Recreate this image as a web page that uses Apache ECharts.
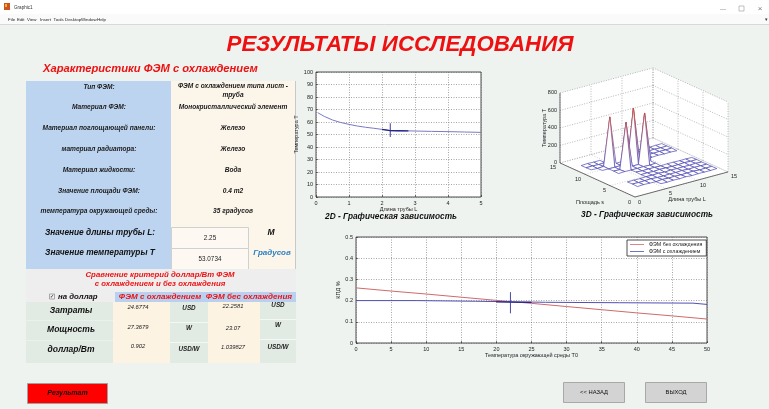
<!DOCTYPE html>
<html><head><meta charset="utf-8">
<script src="https://cdn.jsdelivr.net/npm/echarts@6/dist/echarts.min.js"></script>
<style>html,body{margin:0;padding:0;background:#eef3f0;overflow:hidden}#c{width:769px;height:409px}</style>
</head><body><div id="c"></div>
<script>
// ---------------- DATA ----------------
// 2D chart: temperature T vs tube length L
const lenL  = [0.05, 0.25, 0.5, 0.75, 1.0, 1.25, 1.5, 1.75, 2.0, 2.25, 2.5, 2.75, 3.0, 3.5, 4.0, 4.5, 5.0];
const tempT = [67.5, 64.5, 61.6, 59.6, 58.1, 56.8, 55.8, 55.0, 54.1, 53.07, 53.0, 52.9, 52.8, 52.5, 52.3, 52.0, 51.7];
const lenDark  = [2.0, 2.25, 2.5, 2.8];
const tempDark = [54.1, 53.07, 53.0, 52.9];
const lenMark  = [2.25, 2.25];
const tempMark = [48, 59];

// Efficiency chart: КПД vs ambient temperature T0
const t0Hot      = [0, 5, 10, 15, 20, 25, 30, 35, 40, 45, 50];
const effNoCool  = [0.26, 0.245, 0.231, 0.216, 0.201, 0.187, 0.172, 0.157, 0.142, 0.128, 0.113];
const t0Cool     = [0, 8.6, 8.7, 17, 17.1, 27, 37.5, 48, 50];
const effCool    = [0.2, 0.2, 0.197, 0.197, 0.193, 0.192, 0.19, 0.188, 0.182];
const t0Dark     = [20, 22, 25];
const effDark    = [0.194, 0.193, 0.192];
const t0Mark     = [22, 22];
const effMark    = [0.14, 0.24];
const seriesNames = ['ФЭМ без охлаждения', 'ФЭМ с охлаждением'];

// 3D surface: Temperature T over (tube length L, area s); null = no data
const meshL = [1, 2, 3, 4, 5, 6, 7, 8, 9, 10, 11, 12, 13, 14];
const meshS = [1, 2, 3, 4, 5, 6, 7, 8, 9, 10, 11, 12, 13];
const _ = null;
const meshZ = [ // rows: s = 1..13, columns: L = 1..14
  [_,  _,  _,  _,  31, 29, 33, 30, 34, 28, 31, 30, 29, 32],
  [_,  29, 33, 30, 28, 34, 30, 32, 29, 31, 33, 28, 30, 31],
  [_,  33, 30, 32, 35, 30, 29, 31, 30, 34, 29, 32, 31, 30],
  [_,  30, 31, 29, 33, 31, 34, 28, 32, 30, 31, 29, 33, 28],
  [_,  _,  _,  _,  30, 32, 28, 33, 31, 29, 30, 34, 30, 32],
  [_,  _,  _,  _,  34, 29, 31, 30, 28, 33, 32, 30, 31, 29],
  [_,  _,  29, 33, 31, 30, 32, 29, 33, _,  _,  _,  _,  _ ],
  [_,  _,  32, 28, 550, 31, 30, 600, 30, _, _,  _,  _,  _ ],
  [_,  32, 31, 30, 32, 29, 650, 31, 29, 30, 34, 30, 32, 28],
  [32, 29, 33, 580, 30, 33, 30, 29, 31, 28, 30, 32, 30, 33],
  [30, 31, 28, 32, _,  _,  _,  _,  30, 32, 29, 31, 28, 30],
  [29, 33, 30, 31, _,  _,  _,  _,  31, 30, 33, 29, 31, 32],
  [_,  _,  _,  _,  _,  _,  _,  _,  _,  _,  _,  _,  _,  _ ]
];
const zTicks3D = [0, 200, 400, 600, 800];
const lTicks3D = [0, 5, 10, 15];
const sTicks3D = [0, 5, 10, 15];

// GUI table texts
const rowLabels = ['Тип ФЭМ:', 'Материал ФЭМ:', 'Материал поглощающей панели:', 'материал радиатора:',
  'Материал жидкости:', 'Значение площади ФЭМ:', 'температура окружающей среды:'];
const rowValues = ['ФЭМ с охлаждением типа лист -\nтруба', 'Монокристаллический элемент', 'Железо', 'Железо',
  'Вода', '0.4 m2', '35 градусов'];
const tubeLength = '2.25';
const tempResult = '53.0734';
const costRowNames = ['Затраты', 'Мощность', 'доллар/Вт'];
const costCool = ['24.6774', '27.3679', '0.902'];
const costNoCool = ['22.2581', '23.07', '1.039827'];
const costUnits = ['USD', 'W', 'USD/W'];
const menuItems = ['File', 'Edit', 'View', 'Insert', 'Tools', 'Desktop', 'Window', 'Help'];

// ---------------- LAYOUT / STYLE ----------------
const FF = '"Liberation Sans", Arial, sans-serif';
function fnt(size, bold, italic) { return (italic ? 'italic ' : '') + (bold ? 'bold ' : '') + size + 'px ' + FF; }
function rect(x, y, w, h, fill, stroke, lw) {
  return { type: 'rect', silent: true, z: 0, shape: { x: x, y: y, width: w, height: h },
    style: { fill: fill, stroke: stroke || null, lineWidth: lw || 0 } };
}
function txt(x, y, text, font, fill, align, extra) {
  const st = { text: text, font: font, fill: fill || '#111', align: align || 'center', verticalAlign: 'middle',
    textAlign: align || 'center', textVerticalAlign: 'middle' };
  if (extra) Object.assign(st, extra);
  return { type: 'text', silent: true, z: 5, x: x, y: y, style: st };
}
function hline(x1, x2, y, color, lw) {
  return { type: 'line', silent: true, z: 1, shape: { x1: x1, y1: y, x2: x2, y2: y }, style: { stroke: color, lineWidth: lw || 1 } };
}
function vline(x, y1, y2, color, lw) {
  return { type: 'line', silent: true, z: 1, shape: { x1: x, y1: y1, x2: x, y2: y2 }, style: { stroke: color, lineWidth: lw || 1 } };
}

const RED = '#ee1111';
const g = [];
// window chrome
g.push(rect(0, 0, 769, 14, '#ffffff'));
g.push(rect(0, 14, 769, 10, '#fafafa'));
g.push(hline(0, 769, 24.5, '#d8d8d8', 1));
g.push(rect(4, 3, 6, 7, '#c8561e'));
g.push(rect(5, 4, 2, 3, '#f0b030'));
g.push(txt(14, 7.5, 'Graphic1', fnt(4.6, false, false), '#333', 'left'));
const menuX = [8, 17, 27, 40, 53.5, 65, 81, 97];
menuItems.forEach((m, i) => g.push(txt(menuX[i], 19.5, m, fnt(4.4, false, false), '#222', 'left')));
g.push(txt(723, 9, '—', fnt(6, false, false), '#777'));
g.push(rect(739, 6, 5, 5, null, '#999', 0.6));
g.push(txt(760, 9, '×', fnt(8, false, false), '#777'));
g.push(txt(766, 20, '▾', fnt(5, false, false), '#333'));

// Main title
g.push(txt(400, 45, 'РЕЗУЛЬТАТЫ ИССЛЕДОВАНИЯ', fnt(22.3, true, true), RED));
g.push(txt(43, 68.5, 'Характеристики ФЭМ с охлаждением', fnt(11.2, true, true), RED, 'left'));

// Table - properties
g.push(rect(26, 81, 145, 188, '#bcd4f0'));
g.push(rect(171, 81, 124, 188, '#fcf5ea'));
g.push(vline(295.5, 81, 269, '#c8c8c8', 1));
const rowY = [87, 107, 128, 149, 170, 191, 211];
rowLabels.forEach((t, i) => g.push(txt(99, rowY[i], t, fnt(6.6, true, true), '#1a1a1a')));
rowValues.forEach((t, i) => g.push(txt(233, i === 0 ? 90.5 : rowY[i], t, fnt(6.6, true, true), '#1a1a1a', 'center', { lineHeight: 8.5 })));
g.push(txt(100, 233, 'Значение длины трубы L:', fnt(8.3, true, true), '#111'));
g.push(txt(100, 253, 'Значение температуры Т', fnt(8.3, true, true), '#111'));
g.push(rect(171.5, 227.5, 77, 21, '#fdf8f1', '#d0d0d0', 1));
g.push(rect(171.5, 248.5, 77, 21, '#fdf8f1', '#d0d0d0', 1));
g.push(txt(210, 238.5, tubeLength, fnt(6.3, false, false), '#222'));
g.push(txt(210, 259.5, tempResult, fnt(6.3, false, false), '#222'));
g.push(txt(271, 233, 'М', fnt(8.5, true, true), '#111'));
g.push(txt(272, 253, 'Градусов', fnt(8, true, true), '#2a7fc0'));

// Comparison block
g.push(rect(26, 269, 270, 23, '#eeeeee'));
g.push(txt(160, 274.5, 'Сравнение критерий доллар/Вт ФЭМ', fnt(7.8, true, true), RED));
g.push(txt(160, 283.5, 'с охлаждением и без охлаждения', fnt(7.8, true, true), RED));
g.push(rect(26, 292, 89, 10, '#eeeeee'));
g.push(rect(49.5, 294, 5, 5, '#f4f4f4', '#777', 0.6));
g.push(txt(52, 296.8, '✓', fnt(5, true, false), '#333'));
g.push(txt(58, 297, 'на доллар', fnt(7.8, true, true), '#111', 'left'));
g.push(rect(115, 292, 181, 10, '#b9d1f0'));
g.push(txt(205.5, 297, 'ФЭМ с охлаждением  ФЭМ бес охлаждения', fnt(8.1, true, true), RED));
// cost grid
const colX = [26, 113, 170, 208, 260, 296];
const colFill = ['#e1ebe3', '#fdf3e3', '#e1ebe3', '#fdf3e3', '#e1ebe3'];
colFill.forEach((c, i) => g.push(rect(colX[i], 302, colX[i + 1] - colX[i], 61, c)));
g.push(hline(170, 208, 322.5, '#f4f8f5', 1));
g.push(hline(170, 208, 342.5, '#f4f8f5', 1));
g.push(hline(260, 296, 319.5, '#f4f8f5', 1));
g.push(hline(260, 296, 339.5, '#f4f8f5', 1));
g.push(hline(26, 113, 320.5, '#eaf1ec', 1));
g.push(hline(26, 113, 340.5, '#eaf1ec', 1));
const rowNameY = [311, 330, 350];
const coolY = [307, 327, 346];
const unitY1 = [308, 328, 349];
const noCoolY = [306, 328, 347];
const unitY2 = [305, 325, 347];
costRowNames.forEach((t, i) => g.push(txt(71, rowNameY[i], t, fnt(8.5, true, true), '#111')));
costCool.forEach((t, i) => g.push(txt(138, coolY[i], t, fnt(5.8, false, true), '#222')));
costUnits.forEach((t, i) => g.push(txt(189, unitY1[i], t, fnt(6.3, true, true), '#222')));
costNoCool.forEach((t, i) => g.push(txt(233, noCoolY[i], t, fnt(5.8, false, true), '#222')));
costUnits.forEach((t, i) => g.push(txt(278, unitY2[i], t, fnt(6.3, true, true), '#222')));

// chart captions
g.push(txt(391, 217, '2D - Графическая зависимость', fnt(8.3, true, true), '#111'));
g.push(txt(647, 215, '3D - Графическая зависимость', fnt(8.3, true, true), '#111'));

// buttons
g.push(rect(27.5, 383.5, 80, 20, '#ff0000', '#a0a0a0', 1));
g.push(txt(67.5, 393.5, 'Результат', fnt(7, true, true), '#111'));
g.push(rect(563.5, 382.5, 61, 20, '#d3d3d3', '#a8a8a8', 1));
g.push(txt(594, 392.5, '<< НАЗАД', fnt(5.8, false, false), '#111'));
g.push(rect(645.5, 382.5, 61, 20, '#d3d3d3', '#a8a8a8', 1));
g.push(txt(676, 392.5, 'ВЫХОД', fnt(5.8, false, false), '#111'));

// ---------------- 3D projection helpers ----------------
const P = { lx: 6.2, sx: -5.0, ly: 1.67, sy: 2.27, zk: 0.0875 };
function toUV(L, s, z) { return [P.lx * L + P.sx * s, P.ly * L + P.sy * s + P.zk * z]; }
function mix(a, b, t) { return Math.round(a + (b - a) * t); }
function zColor(z) {
  const t = Math.max(0, Math.min(1, z / 650));
  const lo = [70, 70, 180], mid = [140, 90, 170], hi = [190, 70, 60];
  let c;
  if (t < 0.5) { const k = t / 0.5; c = [mix(lo[0], mid[0], k), mix(lo[1], mid[1], k), mix(lo[2], mid[2], k)]; }
  else { const k = (t - 0.5) / 0.5; c = [mix(mid[0], hi[0], k), mix(mid[1], hi[1], k), mix(mid[2], hi[2], k)]; }
  return 'rgb(' + c.join(',') + ')';
}

function render3D(params, api) {
  const pt = (L, s, z) => api.coord(toUV(L, s, z));
  const ch = [];
  const Lmax = 15, Smax = 15, Zmax = 800;
  const poly = (pts, fill) => ({ type: 'polygon', shape: { points: pts }, style: { fill: fill, stroke: null } });
  const seg = (a, b, stroke, lw, dash) => ({ type: 'line', shape: { x1: a[0], y1: a[1], x2: b[0], y2: b[1] },
    style: { stroke: stroke, lineWidth: lw, lineDash: dash || null } });
  const DOT = [1, 1.5];
  const GC = '#8a8a8a';
  // wall fills
  ch.push(poly([pt(0, Smax, 0), pt(Lmax, Smax, 0), pt(Lmax, Smax, Zmax), pt(0, Smax, Zmax)], '#ffffff'));
  ch.push(poly([pt(Lmax, 0, 0), pt(Lmax, Smax, 0), pt(Lmax, Smax, Zmax), pt(Lmax, 0, Zmax)], '#ffffff'));
  ch.push(poly([pt(0, 0, 0), pt(Lmax, 0, 0), pt(Lmax, Smax, 0), pt(0, Smax, 0)], '#ffffff'));
  // grid on back walls and floor
  zTicks3D.forEach(z => {
    ch.push(seg(pt(0, Smax, z), pt(Lmax, Smax, z), GC, 0.6, DOT));
    ch.push(seg(pt(Lmax, Smax, z), pt(Lmax, 0, z), GC, 0.6, DOT));
  });
  lTicks3D.forEach(L => {
    ch.push(seg(pt(L, Smax, 0), pt(L, Smax, Zmax), GC, 0.6, DOT));
    ch.push(seg(pt(L, 0, 0), pt(L, Smax, 0), '#aaa', 0.5, DOT));
  });
  sTicks3D.forEach(s => {
    ch.push(seg(pt(Lmax, s, 0), pt(Lmax, s, Zmax), GC, 0.6, DOT));
    ch.push(seg(pt(0, s, 0), pt(Lmax, s, 0), '#aaa', 0.5, DOT));
  });
  // mesh, painter's order (far first)
  const cells = [];
  for (let j = 0; j < meshS.length - 1; j++) {
    for (let i = 0; i < meshL.length - 1; i++) {
      const cL = (meshL[i] + meshL[i + 1]) / 2, cS = (meshS[j] + meshS[j + 1]) / 2;
      cells.push({ i: i, j: j, d: P.ly * cL + P.sy * cS });
    }
  }
  cells.sort((a, b) => b.d - a.d);
  cells.forEach(c => {
    const i = c.i, j = c.j;
    const corners = [[i, j], [i + 1, j], [i + 1, j + 1], [i, j + 1]];
    const vals = corners.map(k => meshZ[k[1]][k[0]]);
    if (vals.some(v => v === null)) return;
    const pts = corners.map((k, n) => pt(meshL[k[0]], meshS[k[1]], vals[n]));
    ch.push(poly(pts, '#ffffff'));
    for (let e = 0; e < 4; e++) {
      const za = vals[e], zb = vals[(e + 1) % 4];
      const pa = pts[e], pb = pts[(e + 1) % 4];
      let stroke = zColor((za + zb) / 2);
      if (Math.abs(za - zb) > 50) {
        stroke = new echarts.graphic.LinearGradient(pa[0], pa[1], pb[0], pb[1],
          [{ offset: 0, color: zColor(za) }, { offset: 1, color: zColor(zb) }], true);
      }
      ch.push(seg(pa, pb, stroke, 0.7));
    }
  });
  // axis lines
  ch.push(seg(pt(0, 0, 0), pt(0, Smax, 0), '#333', 0.7));
  ch.push(seg(pt(0, 0, 0), pt(Lmax, 0, 0), '#333', 0.7));
  ch.push(seg(pt(0, Smax, 0), pt(0, Smax, Zmax), '#333', 0.7));
  // tick labels
  const tfont = fnt(5.5, false, false);
  const label = (p, text, align, dx, dy) => ({ type: 'text', x: p[0] + dx, y: p[1] + dy,
    style: { text: text, font: tfont, fill: '#222', align: align, verticalAlign: 'middle', textAlign: align, textVerticalAlign: 'middle' } });
  zTicks3D.forEach(z => ch.push(label(pt(0, Smax, z), String(z), 'right', -3, 0)));
  sTicks3D.forEach(s => ch.push(label(pt(0, s, 0), String(s), 'right', -4, 5)));
  lTicks3D.forEach(L => ch.push(label(pt(L, 0, 0), String(L), 'left', 3, 5)));
  const zm = pt(0, Smax, Zmax / 2);
  ch.push({ type: 'text', x: zm[0] - 16, y: zm[1], rotation: Math.PI / 2,
    style: { text: 'Температура Т', font: tfont, fill: '#222', align: 'center', verticalAlign: 'middle', textAlign: 'center', textVerticalAlign: 'middle' } });
  const sm = pt(0, 3, 0);
  ch.push({ type: 'text', x: sm[0] - 30, y: sm[1] + 12,
    style: { text: 'Площадь s', font: tfont, fill: '#222', align: 'center', verticalAlign: 'middle', textAlign: 'center', textVerticalAlign: 'middle' } });
  const lm = pt(10, 0, 0);
  ch.push({ type: 'text', x: lm[0] - 10, y: lm[1] + 19,
    style: { text: 'Длина трубы L', font: tfont, fill: '#222', align: 'center', verticalAlign: 'middle', textAlign: 'center', textVerticalAlign: 'middle' } });
  return { type: 'group', children: ch };
}

// ---------------- CHART ----------------
const chart = echarts.init(document.getElementById('c'), null, { renderer: 'canvas', width: 769, height: 409 });
const tickFont = { fontSize: 5.5, color: '#222', fontFamily: FF };
const gridLine = { show: true, lineStyle: { color: '#6a6a6a', type: [1, 1.5], width: 0.6 } };
const pairs = (xs, ys) => xs.map((x, i) => [x, ys[i]]);
const nameStyle = { fontSize: 5.5, color: '#222', fontFamily: FF };
const tickStyle = { inside: true, length: 2, lineStyle: { color: '#222', width: 0.6 } };

const option = {
  animation: false,
  backgroundColor: '#eef3f0',
  graphic: { elements: g },
  grid: [
    { left: 316, top: 72, width: 165, height: 125, show: true, backgroundColor: '#fff', borderColor: '#222', borderWidth: 0.8 },
    { left: 356, top: 237, width: 351, height: 106, show: true, backgroundColor: '#fff', borderColor: '#222', borderWidth: 0.8 },
    { left: 555, top: 57, width: 180, height: 150, show: false }
  ],
  xAxis: [
    { type: 'value', gridIndex: 0, min: 0, max: 5, interval: 1, name: 'Длина трубы L', nameLocation: 'middle', nameGap: 9,
      nameTextStyle: nameStyle, axisLine: { show: false }, axisTick: tickStyle,
      axisLabel: Object.assign({ margin: 3 }, tickFont), splitLine: gridLine, z: 3 },
    { type: 'value', gridIndex: 1, min: 0, max: 50, interval: 5, name: 'Температура окружающей среды T0', nameLocation: 'middle', nameGap: 9,
      nameTextStyle: nameStyle, axisLine: { show: false }, axisTick: tickStyle,
      axisLabel: Object.assign({ margin: 3 }, tickFont), splitLine: gridLine, z: 3 },
    { type: 'value', gridIndex: 2, min: -80, max: 100, show: false }
  ],
  yAxis: [
    { type: 'value', gridIndex: 0, min: 0, max: 100, interval: 10, name: 'Температура Т', nameLocation: 'middle', nameGap: 12,
      nameTextStyle: nameStyle, axisLine: { show: false }, axisTick: Object.assign({ show: true }, tickStyle),
      axisLabel: Object.assign({ margin: 3 }, tickFont), splitLine: gridLine, z: 3 },
    { type: 'value', gridIndex: 1, min: 0, max: 0.5, interval: 0.1, name: 'КПД %', nameLocation: 'middle', nameGap: 13,
      nameTextStyle: nameStyle, axisLine: { show: false }, axisTick: Object.assign({ show: true }, tickStyle),
      axisLabel: Object.assign({ margin: 3, formatter: v => (v === 0 ? '0' : String(+v.toFixed(1))) }, tickFont), splitLine: gridLine, z: 3 },
    { type: 'value', gridIndex: 2, min: -10, max: 140, show: false }
  ],
  legend: {
    data: seriesNames, left: 627, top: 240, orient: 'vertical', itemGap: 2, itemWidth: 14, itemHeight: 4,
    padding: [2, 4, 2, 3], backgroundColor: '#fff', borderColor: '#222', borderWidth: 0.8, borderRadius: 0,
    textStyle: { fontSize: 5.3, color: '#222', fontFamily: FF }, icon: 'path://M0,2 L14,2 L14,2.8 L0,2.8 Z',
    selectedMode: false, z: 10
  },
  series: [
    { name: 'T(L)', type: 'line', xAxisIndex: 0, yAxisIndex: 0, data: pairs(lenL, tempT), showSymbol: false, symbol: 'none',
      lineStyle: { color: '#7a7ac4', width: 1 }, itemStyle: { color: '#7a7ac4' }, z: 4 },
    { name: 'T(L) marker seg', type: 'line', xAxisIndex: 0, yAxisIndex: 0, data: pairs(lenDark, tempDark), symbol: 'none',
      lineStyle: { color: '#25258c', width: 1.3 }, z: 5 },
    { name: 'T(L) marker', type: 'line', xAxisIndex: 0, yAxisIndex: 0, data: pairs(lenMark, tempMark), symbol: 'none',
      lineStyle: { color: '#25258c', width: 0.9 }, z: 5 },
    { name: seriesNames[0], type: 'line', xAxisIndex: 1, yAxisIndex: 1, data: pairs(t0Hot, effNoCool), symbol: 'none',
      lineStyle: { color: '#d06a6a', width: 1 }, itemStyle: { color: '#d06a6a' }, z: 4 },
    { name: seriesNames[1], type: 'line', xAxisIndex: 1, yAxisIndex: 1, data: pairs(t0Cool, effCool), symbol: 'none',
      lineStyle: { color: '#5050b4', width: 1 }, itemStyle: { color: '#5050b4' }, z: 4 },
    { name: 'eff marker seg', type: 'line', xAxisIndex: 1, yAxisIndex: 1, data: pairs(t0Dark, effDark), symbol: 'none',
      lineStyle: { color: '#25258c', width: 1.3 }, z: 5 },
    { name: 'eff marker', type: 'line', xAxisIndex: 1, yAxisIndex: 1, data: pairs(t0Mark, effMark), symbol: 'none',
      lineStyle: { color: '#3535a0', width: 0.9 }, z: 5 },
    { name: 'surface', type: 'custom', xAxisIndex: 2, yAxisIndex: 2, coordinateSystem: 'cartesian2d', data: [[0, 0]],
      renderItem: render3D, clip: false, silent: true, z: 4 }
  ]
};
chart.setOption(option);
</script>
</body></html>
